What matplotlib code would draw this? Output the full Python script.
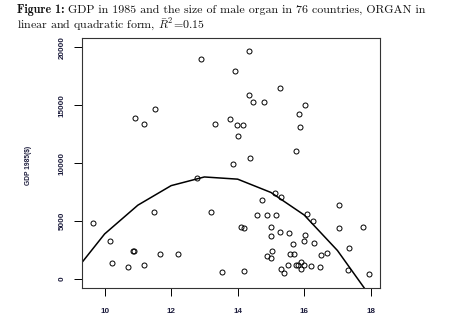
import numpy as np
import matplotlib
matplotlib.use("Agg")
from matplotlib import pyplot as plt

# organ length (cm) and GDP 1985 ($) for 76 countries
organ = [11.52, 10.915, 11.185, 14.34, 12.90, 13.915, 15.28, 14.35, 14.476, 14.80,
         13.77, 13.306, 13.975, 14.16, 14.0, 14.38, 13.846, 16.02, 15.856, 15.88,
         15.745, 12.78, 9.655, 11.49, 13.19, 10.16, 10.85, 10.89, 11.665, 12.196,
         10.234, 10.696, 11.194, 13.531, 14.2, 14.11, 14.19, 15.11, 15.30, 14.73,
         17.035, 14.59, 14.88, 15.14, 16.10, 16.276, 15.016, 17.035, 17.78, 15.26,
         15.53, 15.016, 16.036, 15.99, 15.676, 16.30, 17.335, 15.04, 14.88, 15.004,
         15.586, 15.68, 16.51, 16.675, 15.895, 15.745, 15.81, 16.006, 16.204, 16.474,
         15.50, 15.89, 15.31, 15.40, 17.31, 17.935]
gdp = [14670, 13880, 13380, 19710, 18980, 17930, 16500, 15900, 15290, 15250,
       13780, 13400, 13320, 13320, 12300, 10450, 9890, 15030, 14280, 13160,
       11080, 8710, 4780, 5780, 5810, 3220, 2430, 2430, 2160, 2160,
       1340, 1010, 1220, 600, 640, 4440, 4370, 7390, 7070, 6840,
       6340, 5550, 5530, 5510, 5580, 5020, 4500, 4410, 4500, 4000,
       3940, 3660, 3790, 3290, 3030, 3080, 2620, 2360, 2000, 1780,
       2170, 2150, 2040, 2200, 1470, 1180, 1180, 1220, 1070, 1050,
       1160, 840, 810, 450, 720, 405]

# fitted quadratic, evaluated at integer lengths
fit_x = [9, 10, 11, 12, 13, 14, 15, 16, 17, 18]
fit_y = [250, 3870, 6360, 8050, 8800, 8610, 7460, 5510, 2440, -1580]

plt.rcParams['mathtext.fontset'] = 'cm'
navy = '#1c1c3c'

fig = plt.figure(figsize=(4.5, 3.27), dpi=100)
ax = fig.add_axes([82 / 450, 1 - 288 / 327, 298 / 450, 250 / 327])

ax.plot(organ, gdp, 'o', mfc='none', mec='black', ms=3.6, mew=0.7)
ax.plot(fit_x, fit_y, color='black', lw=1.1)

ax.set_xlim(9.32, 18.28)
ax.set_ylim(-805, 20820)
ax.set_xticks([10, 12, 14, 16, 18])
ax.set_yticks([0, 5000, 10000, 15000, 20000])
ax.tick_params(axis='x', length=5.5, width=0.7, pad=9, labelsize=5.8, labelcolor=navy)
ax.tick_params(axis='y', length=5.5, width=0.7, pad=6.5, labelsize=5.8, labelcolor=navy,
               labelrotation=90)
for lab in ax.get_xticklabels() + ax.get_yticklabels():
    lab.set_fontweight('bold')
    lab.set_fontfamily('Liberation Sans')
for lab in ax.get_yticklabels():
    lab.set_va('center')
for s in ax.spines.values():
    s.set_linewidth(0.8)
    s.set_color('#333333')

fig.text(28 / 450, 1 - 165 / 327, 'GDP 1985($)', rotation=90, ha='center', va='center',
         fontsize=4.8, fontweight='bold', family='Liberation Sans', color=navy)

# title, bold "Figure 1:" followed by regular text
fig.canvas.draw()
r = fig.canvas.get_renderer()
fs = 8.6
t1 = fig.text(17 / 450, 1 - 10 / 327, 'Figure 1:', family='cmb10', fontsize=fs,
              va='center', color='#111111')
w = t1.get_window_extent(r).width
fig.text((17 + w + 4) / 450, 1 - 10 / 327,
         'GDP in 1985 and the size of male organ in 76 countries, ORGAN in',
         family='cmr10', fontsize=fs, va='center', color='#111111')
fig.text(17 / 450, 1 - 25 / 327, r'linear and quadratic form, $\bar{R}^2\!=\!0.15$',
         family='cmr10', fontsize=fs, va='center', color='#111111')

fig.savefig('out.png', dpi=100)
